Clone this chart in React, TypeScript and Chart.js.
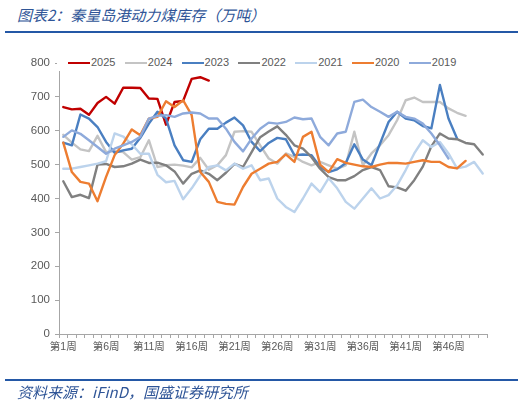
import React, { useEffect, useRef } from "react";
import { Chart, registerables } from "chart.js";

Chart.register(...registerables);

const weeks: string[] = Array.from({ length: 50 }, (_, i) => `第${i + 1}周`);
const yTickValues = [0, 100, 200, 300, 400, 500, 600, 700, 800];

const d2025 = [670, 663, 665, 647, 682, 700, 680, 727, 727, 726, 695, 694, 618, 685, 688, 753, 758, 748];
const d2024 = [588, 565, 545, 540, 585, 537, 540, 537, 515, 522, 572, 493, 498, 500, 497, 492, 520, 485, 498, 528, 597, 599, 597, 557, 518, 503, 533, 523, 508, 498, 508, 498, 488, 498, 597, 498, 533, 557, 587, 631, 690, 698, 685, 685, 685, 666, 653, 644];
const d2023 = [565, 557, 648, 636, 611, 567, 535, 542, 547, 579, 621, 656, 636, 557, 513, 508, 575, 606, 606, 624, 639, 616, 567, 540, 564, 579, 575, 528, 530, 528, 493, 478, 486, 505, 560, 515, 498, 562, 626, 656, 636, 631, 614, 607, 735, 636, 577];
const d2022 = [451, 404, 411, 401, 500, 502, 493, 495, 503, 515, 505, 506, 498, 480, 444, 473, 483, 473, 454, 476, 502, 493, 537, 581, 598, 613, 588, 557, 547, 522, 488, 463, 454, 454, 466, 484, 493, 484, 436, 433, 423, 454, 494, 554, 592, 577, 575, 564, 560, 530];
const d2021 = [488, 488, 493, 498, 503, 510, 592, 583, 560, 532, 532, 470, 448, 452, 398, 430, 468, 493, 498, 483, 503, 488, 498, 454, 459, 400, 375, 360, 400, 444, 419, 460, 430, 390, 370, 400, 430, 400, 410, 439, 484, 533, 572, 552, 567, 533, 489, 494, 508, 474];
const d2020 = [565, 478, 449, 444, 392, 464, 528, 562, 604, 587, 636, 641, 687, 670, 690, 646, 478, 449, 390, 384, 382, 434, 473, 488, 503, 508, 530, 508, 582, 597, 500, 478, 516, 505, 500, 495, 493, 500, 505, 505, 503, 508, 513, 508, 508, 493, 489, 511];
const d2019 = [582, 601, 591, 572, 552, 532, 547, 557, 567, 582, 636, 644, 646, 641, 651, 654, 651, 636, 636, 606, 567, 539, 577, 606, 624, 621, 626, 639, 634, 636, 582, 557, 592, 597, 685, 692, 670, 656, 641, 656, 641, 636, 621, 592, 557, 518];

const seriesNames = ["2025", "2024", "2023", "2022", "2021", "2020", "2019"];
const seriesData = [d2025, d2024, d2023, d2022, d2021, d2020, d2019];
const seriesColors = ["#c00000", "#c4c4c4", "#4a7fc1", "#808080", "#bcd3ec", "#ed7d31", "#8eaadb"];

const titleText = "图表2：秦皇岛港动力煤库存（万吨）";
const sourceText = "资料来源：iFinD，国盛证券研究所";

const axisColor = "#a6a6a6";
const textColor = "#595959";
const latinFont = "'Liberation Sans', 'Noto Sans CJK SC', sans-serif";
const cjkFont = "'Noto Sans CJK SC', sans-serif";
const brandBlue = "#2458a6";

export default function App() {
  const canvasRef = useRef<HTMLCanvasElement | null>(null);

  useEffect(() => {
    const canvas = canvasRef.current;
    if (!canvas) return;
    const chart = new Chart(canvas, {
      type: "line",
      data: {
        labels: weeks,
        datasets: seriesNames.map((name, i) => ({
          label: name,
          data: seriesData[i],
          borderColor: seriesColors[i],
          backgroundColor: seriesColors[i],
          borderWidth: 2.4,
          pointRadius: 0,
          tension: 0,
          fill: false,
          borderJoinStyle: "round" as const,
          borderCapStyle: "round" as const,
          order: seriesNames.length - i,
        })),
      },
      options: {
        responsive: false,
        animation: false,
        layout: { padding: { left: 0, top: 63, right: 44, bottom: 45 } },
        plugins: {
          legend: { display: false },
          tooltip: { enabled: false },
          title: { display: false },
        },
        scales: {
          x: {
            type: "category",
            offset: true,
            grid: {
              display: true,
              offset: true,
              drawOnChartArea: false,
              drawTicks: true,
              tickLength: 4,
              color: axisColor,
            },
            border: { display: true, color: axisColor, width: 1 },
            ticks: {
              autoSkip: false,
              maxRotation: 0,
              minRotation: 0,
              padding: 3,
              color: textColor,
              font: { family: latinFont, size: 10.5 },
              callback: (_v: any, i: number) => (i % 5 === 0 ? weeks[i] : ""),
            },
            afterFit: (s: any) => {
              s.height = 26;
            },
          },
          y: {
            min: 0,
            max: 800,
            afterBuildTicks: (s: any) => {
              s.ticks = yTickValues.map((v) => ({ value: v }));
            },
            grid: {
              display: true,
              drawOnChartArea: false,
              drawTicks: true,
              tickLength: 4,
              color: axisColor,
            },
            border: { display: true, color: axisColor, width: 1 },
            ticks: {
              padding: 5,
              color: textColor,
              font: { family: latinFont, size: 11.5 },
            },
            afterFit: (s: any) => {
              s.width = 59;
            },
          },
        },
      },
    });
    return () => chart.destroy();
  }, []);

  const legendStart = 68;
  const legendStep = 56.8;

  return (
    <div
      style={{
        position: "absolute",
        left: 0,
        top: 0,
        width: 531,
        height: 405,
        background: "#ffffff",
        overflow: "hidden",
      }}
    >
      <div
        style={{
          position: "absolute",
          left: 17,
          top: 6,
          fontFamily: cjkFont,
          fontStyle: "italic",
          fontSize: 15,
          lineHeight: "17px",
          color: "#2f5597",
          whiteSpace: "nowrap",
        }}
      >
        {titleText}
      </div>
      <div style={{ position: "absolute", left: 5, top: 31, width: 513, height: 2, background: brandBlue }} />
      <canvas
        ref={canvasRef}
        width={531}
        height={405}
        style={{ position: "absolute", left: 0, top: 0, width: 531, height: 405, display: "block" }}
      />
      <div
        style={{
          position: "absolute",
          left: 57,
          top: 54,
          width: 420,
          height: 17,
          background: "#ffffff",
        }}
      />
      {seriesNames.map((name, i) => {
        const x0 = legendStart + i * legendStep;
        return (
          <React.Fragment key={name}>
            <div
              style={{
                position: "absolute",
                left: x0,
                top: 61.5,
                width: 22,
                height: 2.5,
                background: seriesColors[i],
              }}
            />
            <div
              style={{
                position: "absolute",
                left: x0 + 23,
                top: 56,
                fontFamily: latinFont,
                fontSize: 11,
                lineHeight: "13px",
                color: textColor,
                whiteSpace: "nowrap",
              }}
            >
              {name}
            </div>
          </React.Fragment>
        );
      })}
      <div style={{ position: "absolute", left: 5, top: 379, width: 513, height: 2, background: brandBlue }} />
      <div
        style={{
          position: "absolute",
          left: 17,
          top: 383,
          fontFamily: cjkFont,
          fontStyle: "italic",
          fontSize: 15,
          lineHeight: "17px",
          color: "#2f5597",
          whiteSpace: "nowrap",
        }}
      >
        {sourceText}
      </div>
    </div>
  );
}
